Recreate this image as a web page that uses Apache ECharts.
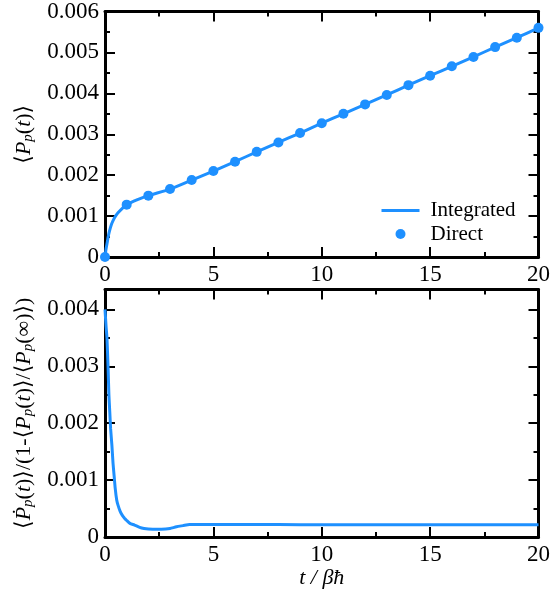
<!DOCTYPE html>
<html>
<head>
<meta charset="utf-8">
<script src="https://cdn.jsdelivr.net/npm/echarts@6/dist/echarts.min.js"></script>
<style>
  html, body { margin: 0; padding: 0; background: #fff; }
  #chart { width: 553px; height: 598px; }
</style>
</head>
<body>
<div id="chart"></div>
<script>
// direct points (top panel)
var directT = [0, 1, 2, 3, 4, 5, 6, 7, 8, 9, 10, 11, 12, 13, 14, 15, 16, 17, 18, 19, 20]
var directV = [0, 0.00128, 0.0015, 0.00166, 0.00188, 0.0021, 0.00233, 0.00257, 0.0028, 0.00303, 0.00327,
  0.0035, 0.00373, 0.00396, 0.0042, 0.00443, 0.00466, 0.00489, 0.00513, 0.00536, 0.0056]
// integrated curve (top panel)
var intT = [0, 0.05, 0.1, 0.15, 0.2, 0.3, 0.4, 0.5, 0.6, 0.8, 1, 1.5, 2, 3, 4, 5, 6, 7, 8, 9, 10,
  11, 12, 13, 14, 15, 16, 17, 18, 19, 20]
var intV = [0, 0.0002, 0.00035, 0.0005, 0.00062, 0.0008, 0.00092, 0.00101, 0.00108, 0.00119, 0.00128,
  0.0014, 0.0015, 0.00166, 0.00188, 0.0021, 0.00233, 0.00257, 0.0028, 0.00303, 0.00327,
  0.0035, 0.00373, 0.00396, 0.0042, 0.00443, 0.00466, 0.00489, 0.00513, 0.00536, 0.0056]
// rate curve (bottom panel)
var rateT = [0, 0.05, 0.09, 0.14, 0.18, 0.22, 0.26, 0.32, 0.37, 0.42, 0.47, 0.54, 0.6, 0.7, 0.8, 0.9,
  1.0, 1.15, 1.36, 1.6, 1.8, 2.0, 2.4, 2.8, 3.0, 3.3, 3.6, 3.9, 4.5, 6, 8, 10, 12, 14, 16, 18, 20]
var rateV = [0.004, 0.0037, 0.0035, 0.003, 0.0025, 0.0022, 0.0019, 0.0016, 0.0013, 0.00108, 0.00086,
  0.00065, 0.00056, 0.00045, 0.00038, 0.00033, 0.00029, 0.00024, 0.00021, 0.00017, 0.00015, 0.00014,
  0.000135, 0.00014, 0.00015, 0.00018, 0.0002, 0.00022, 0.00022, 0.00022, 0.000218, 0.000216,
  0.000215, 0.000215, 0.000215, 0.000215, 0.000215]

var blue = '#1E90FF'
var font = '"Liberation Serif", "DejaVu Serif", serif'

function zip(a, b) {
  return a.map(function (v, i) { return [v, b[i]] })
}

// common axis look: box frame with ticks inside
function axisBase(extra) {
  var o = {
    axisLine: { show: true, onZero: false, lineStyle: { color: '#000', width: 3 } },
    axisTick: { show: true, inside: true, length: 10, lineStyle: { color: '#000', width: 2 } },
    minorTick: { show: true, splitNumber: 2, length: 5, lineStyle: { color: '#000', width: 2 } },
    splitLine: { show: false },
    axisLabel: { color: '#000', fontFamily: font, fontSize: 23, margin: 6 }
  }
  for (var k in extra) o[k] = extra[k]
  return o
}
// only label the 0.001 steps (max of the lower panel is not one)
function fmtY(v) {
  var r = Math.round(v * 1000) / 1000
  if (Math.abs(r - v) > 1e-9) return ''
  return v === 0 ? '0' : r.toFixed(3)
}

var nameRich = {
  a: { fontFamily: font, fontSize: 22, lineHeight: 24, verticalAlign: 'top', color: '#000' },
  i: { fontFamily: font, fontSize: 22, lineHeight: 24, verticalAlign: 'top', fontStyle: 'italic', color: '#000' },
  s: { fontFamily: font, fontSize: 15, lineHeight: 24, verticalAlign: 'top', fontStyle: 'italic', padding: [8, 0, 0, 0], color: '#000' }
}

var grids = [
  { left: 105, top: 8.5, width: 436, height: 248.5 },
  { left: 105, top: 289.5, width: 436, height: 247.5 }
]

var options = {
  animation: false,
  grid: grids,
  legend: {
    data: [
      { name: 'Integrated', itemStyle: { opacity: 0 }, lineStyle: { width: 3 } },
      { name: 'Direct' }
    ],
    orient: 'vertical',
    left: 380,
    top: 200,
    padding: 0,
    itemWidth: 38,
    itemHeight: 10,
    itemGap: 2.5,
    textStyle: { fontFamily: font, fontSize: 21, color: '#000', padding: [0, 0, 0, 6] }
  },
  xAxis: [
    axisBase({ type: 'value', gridIndex: 0, min: 0, max: 20, interval: 5, position: 'bottom' }),
    axisBase({ type: 'value', gridIndex: 0, min: 0, max: 20, interval: 5, position: 'top',
      axisLabel: { show: false } }),
    axisBase({ type: 'value', gridIndex: 1, min: 0, max: 20, interval: 5, position: 'bottom',
      name: 't / βħ', nameLocation: 'middle', nameGap: 30,
      nameTextStyle: { fontFamily: font, fontSize: 22, fontStyle: 'italic', color: '#000' } }),
    axisBase({ type: 'value', gridIndex: 1, min: 0, max: 20, interval: 5, position: 'top',
      axisLabel: { show: false } })
  ],
  yAxis: [
    axisBase({ type: 'value', gridIndex: 0, min: 0, max: 0.006, interval: 0.001, position: 'left',
      name: '{a|⟨}{i|P}{s|p}{a|(}{i|t}{a|)⟩}', nameLocation: 'middle', nameGap: 68,
      nameTextStyle: { rich: nameRich } }),
    axisBase({ type: 'value', gridIndex: 0, min: 0, max: 0.006, interval: 0.001, position: 'right',
      axisLabel: { show: false } }),
    axisBase({ type: 'value', gridIndex: 1, min: 0, max: 0.00435, interval: 0.001, position: 'left',
      name: '{a|⟨}{i|Ṗ}{s|p}{a|(}{i|t}{a|)⟩/(1-⟨}{i|P}{s|p}{a|(}{i|t}{a|)⟩/⟨}{i|P}{s|p}{a|(∞)⟩)}',
      nameLocation: 'middle', nameGap: 68,
      nameTextStyle: { rich: nameRich } }),
    axisBase({ type: 'value', gridIndex: 1, min: 0, max: 0.00435, interval: 0.001, position: 'right',
      axisLabel: { show: false } })
  ],
  series: [
    {
      name: 'Integrated',
      type: 'line',
      xAxisIndex: 0,
      yAxisIndex: 0,
      data: zip(intT, intV),
      showSymbol: false,
      symbol: 'none',
      smooth: 0.2,
      lineStyle: { color: blue, width: 3 },
      itemStyle: { color: blue }
    },
    {
      name: 'Direct',
      type: 'scatter',
      xAxisIndex: 0,
      yAxisIndex: 0,
      data: zip(directT, directV),
      symbolSize: 10,
      clip: false,
      itemStyle: { color: blue, opacity: 1 }
    },
    {
      name: 'rate',
      type: 'line',
      xAxisIndex: 2,
      yAxisIndex: 2,
      data: zip(rateT, rateV),
      showSymbol: false,
      symbol: 'none',
      smooth: 0.2,
      lineStyle: { color: blue, width: 3 }
    }
  ]
}
options.yAxis.forEach(function (a) { a.axisLabel.formatter = fmtY })

var myChart = echarts.init(document.getElementById('chart'), null, { renderer: 'canvas' })
myChart.setOption(options)
</script>
</body>
</html>
